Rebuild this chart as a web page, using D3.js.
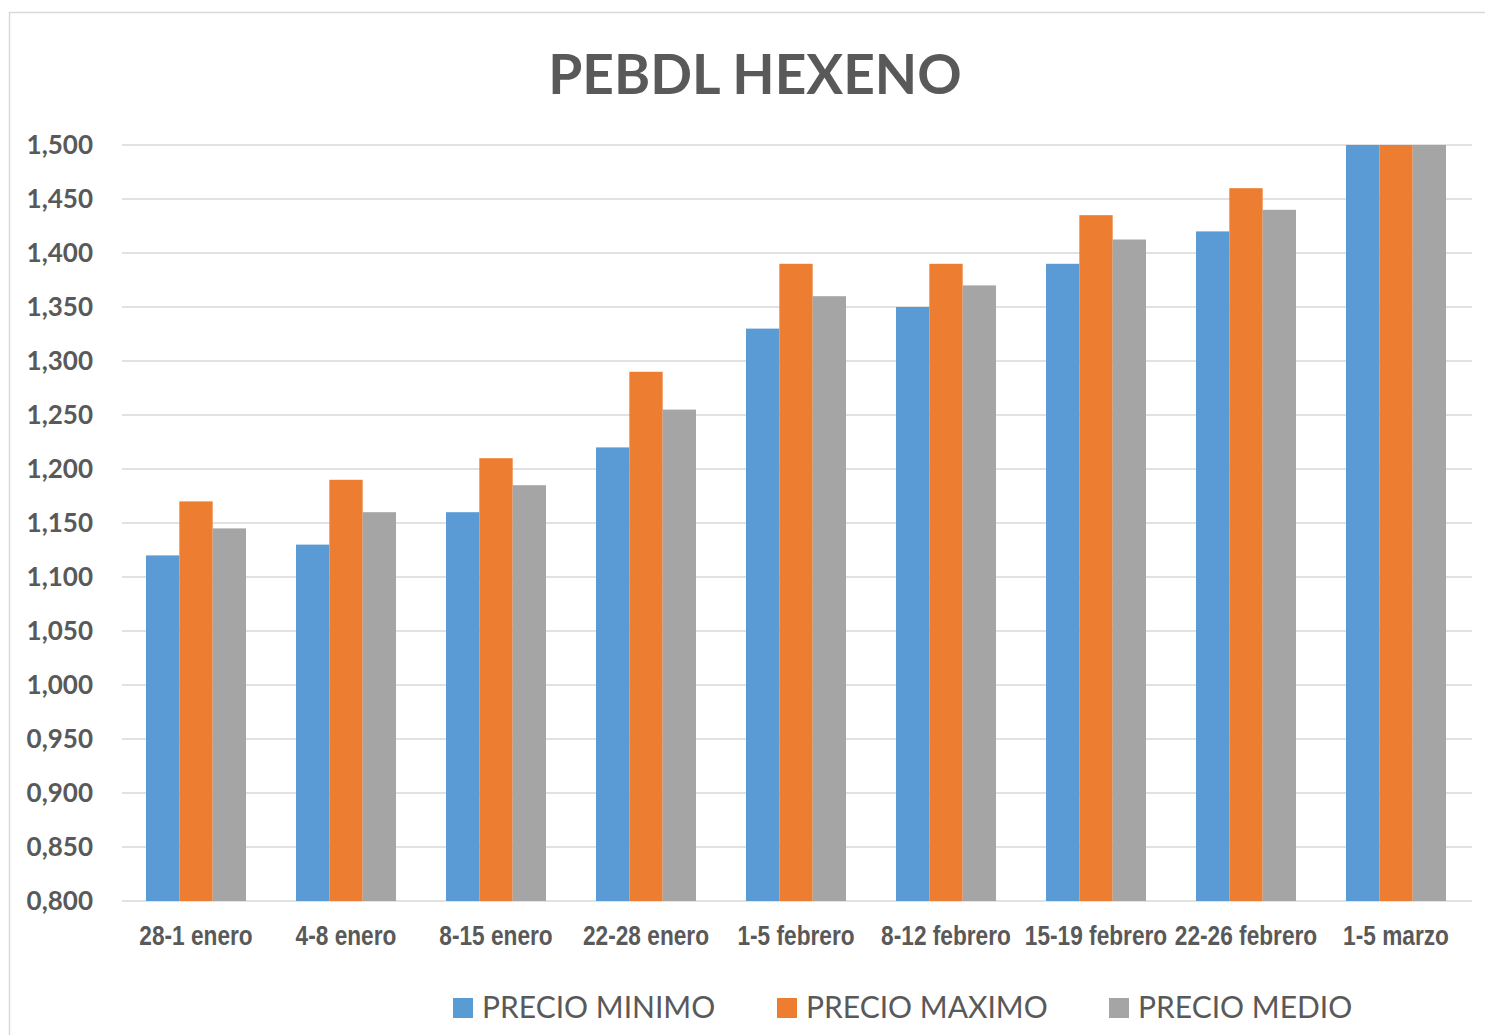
<!DOCTYPE html>
<html><head><meta charset="utf-8">
<script src="https://cdn.jsdelivr.net/npm/d3@7"></script>
<style>body{margin:0;background:#fff}</style>
</head><body>
<svg id="c" width="1485" height="1035"></svg>
<script>
const categories = ["28-1 enero","4-8 enero","8-15 enero","22-28 enero","1-5 febrero","8-12 febrero","15-19 febrero","22-26 febrero","1-5 marzo"];
const seriesNames = ["PRECIO MINIMO","PRECIO MAXIMO","PRECIO MEDIO"];
const precioMinimo = [1.120,1.130,1.160,1.220,1.330,1.350,1.390,1.420,1.500];
const precioMaximo = [1.170,1.190,1.210,1.290,1.390,1.390,1.435,1.460,1.500];
const precioMedio  = [1.145,1.160,1.185,1.255,1.360,1.370,1.4125,1.440,1.500];
const yTicks = [0.80,0.85,0.90,0.95,1.00,1.05,1.10,1.15,1.20,1.25,1.30,1.35,1.40,1.45,1.50];
const colors = ["#5B9BD5","#ED7D31","#A5A5A5"];

const svg = d3.select("#c");
svg.append("rect").attr("x",9.5).attr("y",12.5).attr("width",1490).attr("height",1040)
  .attr("fill","#fff").attr("stroke","#D9D9D9").attr("stroke-width",1.5);

const x0 = d3.scaleBand().domain(categories).range([121,1471]).paddingInner(1/3).paddingOuter(1/6);
const x1 = d3.scaleBand().domain(seriesNames).range([0,x0.bandwidth()]);
const y = d3.scaleLinear().domain([0.8,1.5]).range([901,145]);
const fmt = v => d3.format(".3f")(v).replace(".", ",");

// grid
svg.append("g").selectAll("line").data(yTicks).join("line")
  .attr("x1",122).attr("x2",1472).attr("y1",d=>y(d)).attr("y2",d=>y(d))
  .attr("stroke","#D9D9D9").attr("stroke-width",1.5);

// y labels
svg.append("g").selectAll("text").data(yTicks).join("text")
  .attr("x",93).attr("y",d=>y(d)).attr("dy","0.36em").attr("text-anchor","end")
  .attr("font-family","Lato, 'Open Sans', sans-serif").attr("font-weight","bold")
  .attr("font-size",26).attr("fill","#595959").text(fmt);

const data = [precioMinimo, precioMaximo, precioMedio];
const g = svg.append("g");
categories.forEach((c,i)=>{
  seriesNames.forEach((s,j)=>{
    g.append("rect").attr("x",x0(c)+x1(s)).attr("y",y(data[j][i]))
      .attr("width",x1.bandwidth()).attr("height",y(0.8)-y(data[j][i]))
      .attr("fill",colors[j]);
  });
});

// x labels (narrow bold, emulated by horizontal scaling)
svg.append("g").selectAll("text").data(categories).join("text")
  .attr("transform",d=>`translate(${x0(d)+x0.bandwidth()/2},945) scale(0.84,1)`)
  .attr("text-anchor","middle")
  .attr("font-family","'Liberation Sans', Arial, sans-serif").attr("font-weight","bold")
  .attr("font-size",27).attr("fill","#595959").text(d=>d);

// title
svg.append("text").attr("x",755).attr("y",94).attr("text-anchor","middle")
  .attr("font-family","Lato, 'Open Sans', sans-serif").attr("font-weight","bold")
  .attr("font-size",55).attr("fill","#595959").text("PEBDL HEXENO");

// legend
const legX = [453, 777, 1109];
const leg = svg.append("g");
seriesNames.forEach((s,j)=>{
  leg.append("rect").attr("x",legX[j]).attr("y",998).attr("width",20).attr("height",20).attr("fill",colors[j]);
  leg.append("text").attr("x",legX[j]+29).attr("y",1018)
    .attr("font-family","Lato, 'Open Sans', sans-serif").attr("font-size",30).attr("fill","#595959").text(s);
});
</script>
</body></html>
